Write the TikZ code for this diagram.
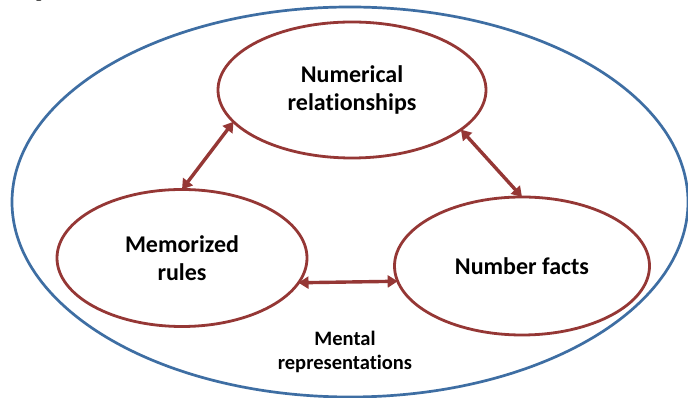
\documentclass[tikz,border=0pt]{standalone}
\usepackage{fontspec}
\setmainfont{Carlito}[RawFeature=-liga]
\newfontfamily\serifp{Liberation Serif}
\usetikzlibrary{shapes.geometric,arrows.meta}
\definecolor{outerblue}{RGB}{62,110,163}
\definecolor{darkred}{RGB}{149,55,53}
\tikzset{
  x=1pt,y=1pt,
  outerell/.style={ellipse,draw=outerblue,line width=2.7pt,inner sep=0pt,outer sep=0pt},
  idea/.style={ellipse,draw=darkred,line width=2.8pt,inner sep=0pt,outer sep=0pt,
     font=\fontsize{24}{28}\selectfont\bfseries,align=center},
  link/.style={draw=darkred,line width=3.4pt,{Triangle[length=10pt,width=12pt]}-{Triangle[length=10pt,width=12pt]}},
  caption/.style={font=\fontsize{20.5}{24}\selectfont\bfseries,align=center,inner sep=0pt}
}
\begin{document}
\begin{tikzpicture}
\clip (0,0) rectangle (688,398);
\fill[white] (0,0) rectangle (688,398);
\node[anchor=base west,inner sep=0pt,font=\serifp\fontsize{22}{26}\selectfont] (frag) at (36,401) {p};
\node[outerell,minimum width=676,minimum height=390] (outer) at (350,196) {};
\node[idea,minimum width=268,minimum height=136] (nr) at (352,308) {Numerical\\relationships};
\node[idea,minimum width=250,minimum height=137] (mr) at (182,140) {Memorized\\rules};
\node[idea,minimum width=255,minimum height=138] (nf) at (522,132) {Number facts};
\node[caption] (ment) at (345,46) {Mental\\representations};
\draw[link] (nr.195.5) -- (mr.90);
\draw[link] (nr.340.8) -- (nf.90);
\draw[link] (mr.348) -- (nf.187);
\end{tikzpicture}
\end{document}
